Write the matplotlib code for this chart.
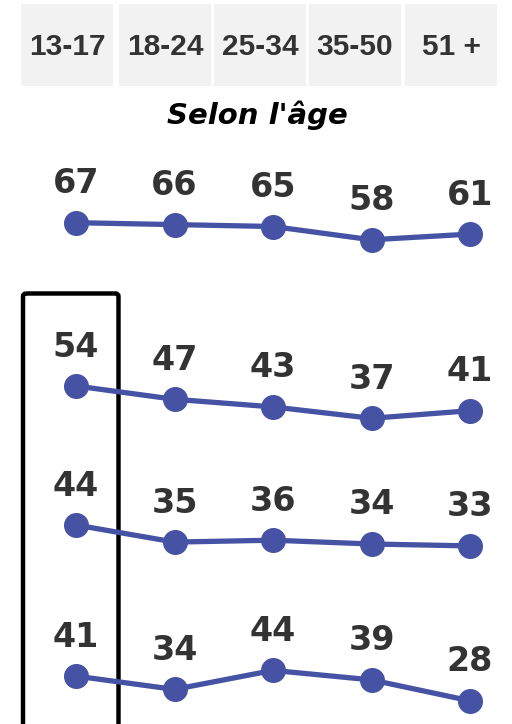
import matplotlib.pyplot as plt
from matplotlib.patches import Rectangle, FancyBboxPatch

# tranches d'âge et valeurs (%) de chaque ligne
ages = ["13-17", "18-24", "25-34", "35-50", "51 +"]
row1 = [67, 66, 65, 58, 61]
row2 = [54, 47, 43, 37, 41]
row3 = [44, 35, 36, 34, 33]
row4 = [41, 34, 44, 39, 28]
rows = [row1, row2, row3, row4]

W, H = 512, 724
blue = "#4653a5"
dark = "#333333"

fig = plt.figure(figsize=(W / 100, H / 100), dpi=100)

# en-têtes gris
bg = fig.add_axes([0, 0, 1, 1])
bg.set_xlim(0, W)
bg.set_ylim(H, 0)
bg.axis("off")
box_left = [21, 119, 214, 309, 405]
box_w = 92
for x0, lab in zip(box_left, ages):
    bg.add_patch(Rectangle((x0, 4), box_w, 82, facecolor="#f2f2f2", edgecolor="none"))
    bg.text(x0 + box_w / 2, 47, lab, ha="center", va="center", fontsize=21.5,
            fontweight="bold", color=dark, family="Liberation Sans")

bg.text(257, 115, "Selon l'âge", ha="center", va="center", fontsize=21,
        fontweight="bold", style="italic", color="black", family="DejaVu Sans")

# cadre autour de la première colonne
bg.add_patch(FancyBboxPatch((23, 293.5), 95.5, 450, boxstyle="round,pad=0,rounding_size=3",
                            facecolor="none", edgecolor="black", linewidth=3.2))

# lignes : chaque ligne a son propre axe (échelle commune 1.9 px par point)
k = 1.9
base = [350, 488.6, 608.6, 754]
x0, dx = 76, 98.5
for vals, b in zip(rows, base):
    ax = fig.add_axes([0, 0, 1, 1])
    ax.patch.set_alpha(0)
    ax.axis("off")
    ax.set_xlim(-x0 / dx, (W - x0) / dx)
    ax.set_ylim((b - H) / k, b / k)
    xs = range(len(vals))
    ax.plot(xs, vals, color=blue, linewidth=3.8, marker="o", markersize=17,
            solid_capstyle="round")
    for i, v in zip(xs, vals):
        ax.annotate(str(v), (i, v), xytext=(0, 39), textcoords="offset pixels",
                    ha="center", va="center", fontsize=24, fontweight="bold",
                    color=dark, family="DejaVu Sans")

fig.savefig("out.png", dpi=100)
